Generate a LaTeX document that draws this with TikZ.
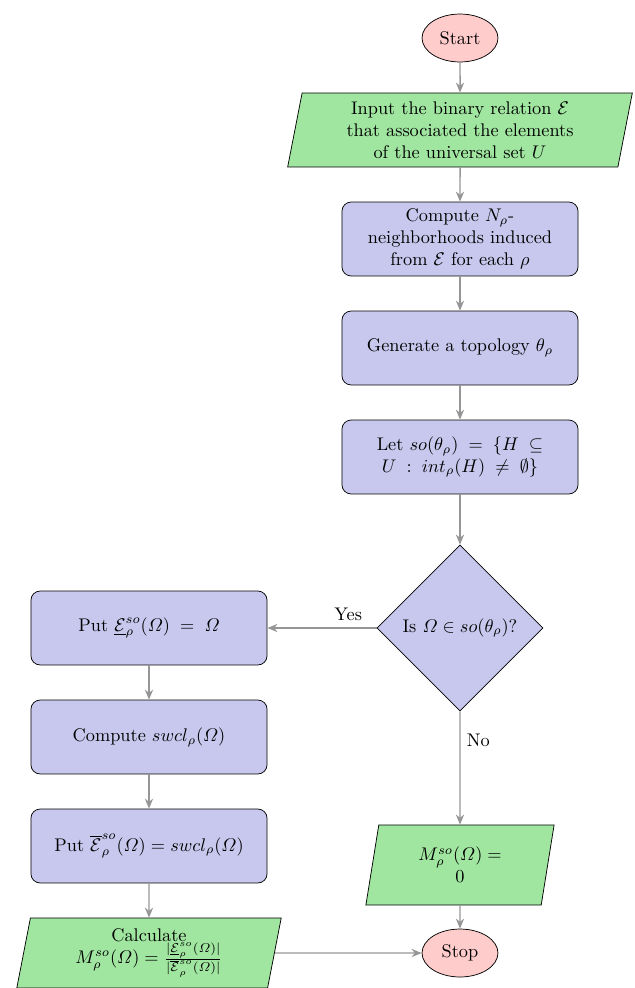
\documentclass[tikz,border=0pt]{standalone}
\usepackage{amsmath,amssymb}
\usetikzlibrary{shapes.geometric,arrows.meta}
\definecolor{startc}{RGB}{255,204,204}
\definecolor{procc}{RGB}{200,200,238}
\definecolor{ioc}{RGB}{160,230,160}
\definecolor{arrc}{RGB}{150,150,150}
\tikzset{
 startstop/.style={ellipse, draw, fill=startc, minimum width=41.5pt, minimum height=26.2pt, inner sep=1pt},
 process/.style={rectangle, rounded corners=5pt, draw, fill=procc, minimum width=129pt, minimum height=40.4pt, align=center},
 io/.style={trapezium, trapezium left angle=81, trapezium right angle=99, trapezium stretches=true, draw, fill=ioc, align=center},
 decision/.style={diamond, draw, fill=procc, minimum width=90.7pt, minimum height=90.7pt, aspect=1, inner sep=0pt, align=center},
 arr/.style={draw=arrc, thick, -{Stealth[length=5.5pt,width=4.5pt]}},
}
\begin{document}
\begin{tikzpicture}[x=0.5464pt, y=-0.5464pt]
\useasboundingbox (0,0) rectangle (635,988);
\node[startstop] (start) at (460,38) {Start};
\node[io, minimum width=188.5pt, minimum height=40.4pt] (in) at (460,130)
  {Input the binary relation $\mathcal{E}$\\that associated the elements\\of the universal set $U$};
\node[process] (nbh) at (460,239) {Compute $N_\rho$-\\neighborhoods induced\\from $\mathcal{E}$ for each $\rho$};
\node[process] (gen) at (460,348) {Generate a topology $\theta_\rho$};
\node[process] (let) at (460,457) {Let $so(\theta_\rho) \;=\; \{H \;\subseteq$\\$U \;:\; int_\rho(H) \;\neq\; \emptyset\}$};
\node[decision] (dec) at (460,628) {Is $\varOmega \in so(\theta_\rho)$?};
\node[process] (put1) at (149,628) {Put $\underline{\mathcal{E}}^{so}_{\rho}(\varOmega) \;=\; \varOmega$};
\node[process] (swcl) at (149,737) {Compute $swcl_\rho(\varOmega)$};
\node[process] (put2) at (149,846) {Put $\overline{\mathcal{E}}^{so}_{\rho}(\varOmega) = swcl_\rho(\varOmega)$};
\node[io, minimum width=144.8pt, minimum height=38.2pt, inner sep=2pt] (calc) at (149,953)
  {Calculate\\$M^{so}_\rho(\varOmega) = \frac{|\underline{\mathcal{E}}^{so}_{\rho}(\varOmega)|}{|\overline{\mathcal{E}}^{so}_{\rho}(\varOmega)|}$};
\node[io, minimum width=103pt, minimum height=43.7pt] (mz) at (460,865) {$M^{so}_\rho(\varOmega) =$\\$0$};
\node[startstop] (stop) at (460,953) {Stop};
\draw[arr] (start) -- (in);
\draw[arr] (in) -- (nbh);
\draw[arr] (nbh) -- (gen);
\draw[arr] (gen) -- (let);
\draw[arr] (let) -- (dec);
\draw[arr] (dec) -- node[pos=0.26, above, text=black] {Yes} (put1);
\draw[arr] (dec) -- node[pos=0.26, right, text=black] {No} (mz);
\draw[arr] (put1) -- (swcl);
\draw[arr] (swcl) -- (put2);
\draw[arr] (put2) -- (calc);
\draw[arr] (mz) -- (stop);
\draw[arr] (calc) -- (stop);
\end{tikzpicture}
\end{document}
